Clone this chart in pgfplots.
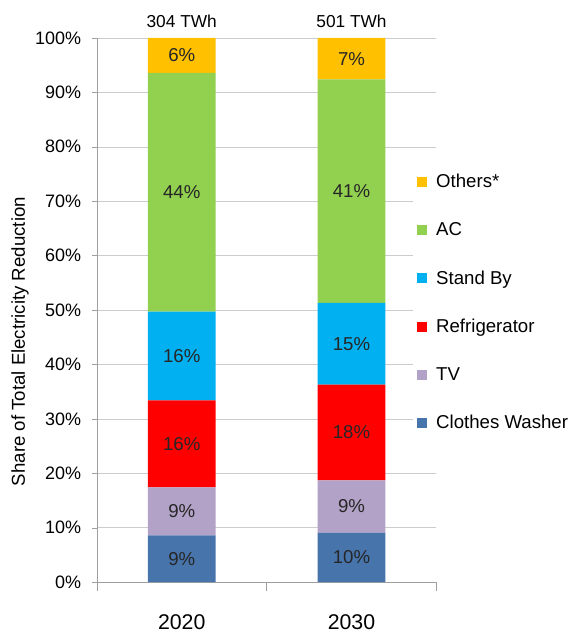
\documentclass[border=0pt]{standalone}
\usepackage{fontspec}
\setmainfont{Liberation Sans}
\usepackage{pgfplots}
\usepackage{pgfplotstable}
\pgfplotsset{compat=1.18}

\definecolor{cwasher}{HTML}{4874AC}
\definecolor{ctv}{HTML}{B3A2C7}
\definecolor{cfridge}{HTML}{FF0000}
\definecolor{cstandby}{HTML}{00B0F0}
\definecolor{cac}{HTML}{92D050}
\definecolor{cothers}{HTML}{FFC000}

\newcommand{\fs}[1]{\fontsize{#1}{#1}\selectfont}

% heights, labels as printed on them
\pgfplotstableread{
x washer tv fridge standby ac others lw lt lf ls la lo
0 8.6 8.8 16.0 16.3 43.9 6.4 9 9 16 16 44 6
1 9.1 9.6 17.6 15.0 41.1 7.6 10 9 18 15 41 7
}\shares

\begin{document}
\begin{tikzpicture}
\begin{axis}[
    scale only axis,
    width=255pt, height=408.75pt,
    ybar stacked,
    bar width=51pt,
    xmin=-0.5, xmax=1.5,
    ymin=0, ymax=100,
    clip=false,
    axis x line*=bottom,
    axis y line*=left,
    axis line style={draw=gray!75},
    tick align=outside,
    /pgf/number format/assume math mode=true,
    ytick={0,10,...,100},
    yticklabel={\pgfmathprintnumber{\tick}\%},
    yticklabel style={font=\fs{13.5}, xshift=-4.5pt},
    ytick style={draw=gray!75},
    major tick length=3.75pt,
    ymajorgrids,
    grid style={draw=gray!40},
    xtick={0,1},
    xticklabels={2020,2030},
    xtick style={draw=none},
    xticklabel style={font=\fs{16}, yshift=-17pt},
    extra x ticks={-0.5,0.5,1.5},
    extra x tick labels={},
    extra x tick style={major tick length=6.75pt, xtick style={draw=gray!75}},
    ylabel={Share of Total Electricity Reduction},
    ylabel style={at={(axis description cs:-0.226,0.442)}, anchor=center, font=\fs{14}},
    point meta=explicit symbolic,
    nodes near coords={\pgfplotspointmeta\%},
    every node near coord/.append style={anchor=center, font=\fs{14}, text=black!85},
    legend style={at={(rel axis cs:0.93,0.76)}, anchor=north west, draw=none,
        fill=white, font=\fs{14}, row sep=20.75pt, legend cell align=left,
        /tikz/every odd column/.append style={column sep=5pt}},
    legend image code/.code={\draw[#1,draw=none] (0pt,-3.75pt) rectangle (7.5pt,3.75pt);},
    reverse legend,
]
\addplot[fill=cwasher, draw=none] table[x=x, y=washer, meta=lw] {\shares};
\addplot[fill=ctv, draw=none] table[x=x, y=tv, meta=lt] {\shares};
\addplot[fill=cfridge, draw=none] table[x=x, y=fridge, meta=lf] {\shares};
\addplot[fill=cstandby, draw=none] table[x=x, y=standby, meta=ls] {\shares};
\addplot[fill=cac, draw=none] table[x=x, y=ac, meta=la] {\shares};
\addplot[fill=cothers, draw=none] table[x=x, y=others, meta=lo] {\shares};
\legend{Clothes Washer, TV, Refrigerator, Stand By, AC, Others*}
\node[font=\fs{13}, anchor=south, yshift=4pt] at (axis cs:0,100) {304 TWh};
\node[font=\fs{13}, anchor=south, yshift=4pt] at (axis cs:1,100) {501 TWh};
\path (rel axis cs:-0.2853,-0.0936) rectangle (rel axis cs:1.4176,1.0697);
\end{axis}
\end{tikzpicture}
\end{document}
